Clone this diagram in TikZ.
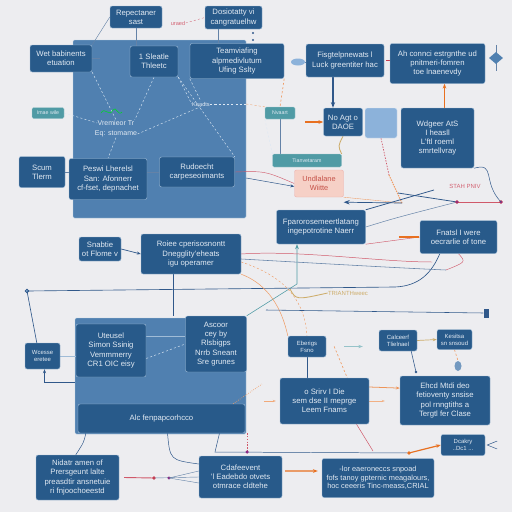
\documentclass[tikz,border=0pt]{standalone}
\usepackage{fontspec}
\setmainfont{Liberation Sans}
\usetikzlibrary{arrows.meta,positioning,calc,shapes.geometric,backgrounds}
\definecolor{bgpaper}{RGB}{237,237,240}
\definecolor{diagblue}{RGB}{40,90,138}
\definecolor{paneblue}{RGB}{80,128,176}
\definecolor{paleblue}{RGB}{140,178,218}
\definecolor{boxtext}{RGB}{226,234,243}
\definecolor{edgeblue}{RGB}{160,188,215}
\definecolor{linkteal}{RGB}{80,155,165}
\definecolor{linkorange}{RGB}{232,112,32}
\definecolor{linkred}{RGB}{200,60,80}
\definecolor{pinkfill}{RGB}{246,208,198}
\definecolor{pinktext}{RGB}{196,80,70}
\definecolor{goldtext}{RGB}{205,172,105}
\definecolor{linkblue}{RGB}{48,88,138}
\tikzset{
  bbox/.style={rounded corners=3pt, draw=edgeblue, fill=diagblue, line width=0.6pt, text=boxtext,
               align=center, inner sep=1pt, font=\fontsize{11}{13}\selectfont},
  smallbox/.style={bbox, font=\fontsize{8.5}{10}\selectfont},
  sqbox/.style={rounded corners=3pt, draw=white!70!paleblue, fill=paleblue, line width=0.6pt},
  pbox/.style={rounded corners=3pt, draw=pinkfill!80!linkred, fill=pinkfill, line width=0.6pt, text=pinktext,
               align=center, inner sep=1pt, font=\fontsize{10.5}{13}\selectfont},
  tlabel/.style={rounded corners=2pt, fill=linkteal, draw=linkteal!50!white, text=boxtext, inner sep=0.5pt,
               font=\fontsize{7.5}{8}\selectfont},
  panel/.style={rounded corners=2pt, fill=paneblue, draw=edgeblue!70, line width=0.5pt},
  paneltext/.style={text=boxtext, inner sep=0.5pt, font=\fontsize{10}{11}\selectfont},
  wh/.style 2 args={minimum width=#1*0.05cm, minimum height=#2*0.05cm},
  flow/.style={line width=1pt, draw=linkblue},
  faint/.style={line width=0.6pt, draw=linkblue!75},
  redlink/.style={line width=0.9pt, draw=linkred!85},
  orlink/.style={line width=0.9pt, draw=linkorange!70},
  dashlink/.style={dashed, line width=0.6pt, draw=white!70!paleblue},
  goldline/.style={line width=1.2pt, draw=goldtext},
  oarrow/.style={-{Stealth[length=2.4mm]}, line width=1.7pt, draw=linkorange},
  barrow/.style={-{Stealth[length=2.8mm]}, line width=1.9pt, draw=linkblue},
}
\begin{document}
\begin{tikzpicture}[x=0.05cm, y=-0.05cm]
\useasboundingbox (0,0) rectangle (512,512);

\node[bbox, wh={52}{22}] (rep) at (136,17) {Repectaner\\sast};
\node[bbox, wh={57}{23}] (dos) at (233.5,17.5) {Dosiotatty vi\\cangratuelhw};
\node[bbox, wh={62}{27}] (wet) at (61,58.5) {Wet babinents\\etuation};
\node[bbox, wh={48}{31}] (sle) at (154,61.5) {1 Sleatle\\Thleetc};
\node[bbox, wh={94}{35}] (team) at (237,61) {Teamviafing\\alpmedivlutum\\Ufing Sslty};
\node[bbox, wh={78}{33}] (fis) at (345,60.5) {Fisgtelpnewats l\\Luck greentiter hac};
\node[bbox, wh={95}{40}] (ahc) at (437.5,63.5) {Ah connci estrgnthe ud\\pnitmeri-fomren\\toe lnaenevdy};

\node[bbox, wh={39}{28}] (noag) at (343,122) {No Agt o\\DAOE};
\node[sqbox, wh={32}{30}] (sqr) at (381,123) {};
\node[bbox, wh={73}{60}] (wdg) at (437.5,138) {Wdgeer AtS\\I heasll\\L'ftl roeml\\smrtellvray};
\node[tlabel, wh={32}{11}] (imae) at (48,113) {Imae wile};
\node[tlabel, wh={30}{12}] (nuard) at (280,113) {Nvaart};
\node[tlabel, wh={69}{13}] (tian) at (307,160.5) {Tianvetaram};
\node[pbox, wh={49}{27}] (pink) at (319,183.5) {Undlalane\\Wiitte};
\node[bbox, wh={46}{31}] (scum) at (42,172) {Scum\\Tlerm};
\node[bbox, wh={78}{41}] (pesw) at (108,179) {Peswi Lherelsl\\San: Afonnerr\\cf-fset, depnachet};
\node[bbox, wh={75}{30}] (rud) at (197,172) {Rudoecht\\carpeseoimants};
\node[bbox, wh={89}{34}] (fpar) at (321,227) {Fparorosemeertlatang\\ingepotrotine Naerr};
\node[bbox, wh={77}{33}] (fnat) at (458.5,237) {Fnatsl I were\\oecrarlie of tone};
\node[bbox, wh={42}{24}] (snab) at (100,249) {Snabtie\\ot Flome v};
\node[bbox, wh={100}{40}] (roie) at (191,254) {Roiee cperisosnontt\\Dnegglity'eheats\\igu operamer};

\node[smallbox, wh={35}{26}] (wces) at (42.5,356) {Wcesse\\eretee};
\node[bbox, wh={70}{53}] (ute) at (111,350.5) {Uteusel\\Simon Ssinig\\Vemmmerry\\CR1 OIC eisy};
\node[bbox, wh={61}{56}] (asc) at (216,344) {Ascoor\\cey by\\Rlsbigps\\Nrrb Sneant\\Sre grunes};
\node[smallbox, wh={38}{21}] (ebe) at (307,346.5) {Eberigs\\Fsno};
\node[smallbox, wh={38}{21}] (calc) at (398,340.5) {Calceerf\\Tlielnael};
\node[smallbox, wh={35}{20}] (kes) at (454.5,339.5) {Kesitsa\\sn snsoud};
\node[bbox, wh={89}{46}] (srv) at (324.5,401) {o Srirv I Die\\sem dse II meprge\\Leem Fnams};
\node[bbox, wh={90}{49}] (ehc) at (445,400.5) {Ehcd Mtdi deo\\fetioventy snsise\\pol rnngtiths a\\Tergtl fer Clase};
\node[bbox, wh={167}{29}] (alc) at (161.5,418.5) {Alc fenpapcorhcco};
\node[bbox, wh={83}{45}] (nid) at (77.5,477.5) {Nidatr amen of\\Prersgeunt lalte\\preasdtir ansnetuie\\ri fnjoochoeestd};
\node[bbox, wh={83}{42}] (cda) at (240.5,477) {Cdafeevent\\'l Eadebdo otvets\\otmrace cldtehe};
\node[bbox, wh={112}{39}, font=\fontsize{10.5}{12.5}\selectfont] (lor) at (378,478) {-lor eaeroneccs snpoad\\fofs tanoy gpternic meagalours,\\hoc ceeeris Tinc-meass,CRIAL};
\node[smallbox, wh={44}{21}] (dcak) at (463,445) {Dcakry\\..Dc1 ...};

\node[paneltext] (vrem) at (116,123) {Vremieor Tr};
\node[paneltext] (eqs) at (116,134) {Eq: stomame};
\node[paneltext, font=\fontsize{8}{9}\selectfont] (keadts) at (201,104) {Keadts};
\node[text=linkred!80, inner sep=0.5pt, font=\fontsize{8}{9}\selectfont] (sraed) at (178,23) {uraed};
\node[text=goldtext, inner sep=0.5pt, font=\fontsize{8.5}{9}\selectfont] (tri) at (348,293) {TRIANTHweec};
\node[text=linkred!80, inner sep=0.5pt, font=\fontsize{8.5}{9}\selectfont] (stah) at (465,186) {STAH PNIV};

\node[ellipse, fill=paleblue, wh={14}{7}, inner sep=0pt] (cloud) at (298,62) {};
\node[diamond, fill=paneblue, wh={14}{12}, inner sep=0pt] (leaf) at (496,58) {};
\node[ellipse, fill=paneblue!80, wh={7}{10}, inner sep=0pt] (bulb) at (458,366) {};
\node[rectangle, fill=linkblue, wh={5}{9}, inner sep=0pt] (pin) at (486,313) {};

\coordinate (hubL) at (27,291);
\coordinate (fisdrop) at (333,77);
\coordinate (midy) at (0,178);
\coordinate (redmid) at (389,175);
\coordinate (xhub) at (402,203);
\coordinate (xcD) at (434,190);
\coordinate (redA) at (457,202);
\coordinate (redB) at (501,202);
\coordinate (tealbend) at (297,284);
\coordinate (bendA) at (395,287);
\coordinate (lnA) at (432,262);
\coordinate (lnB) at (446,270);
\coordinate (bendT) at (290,289);
\coordinate (pinL) at (266,310);
\coordinate (ehcdot) at (416,372);
\coordinate (orfree) at (262,384);
\coordinate (lineL) at (215,452);
\coordinate (dotO) at (409,453);
\coordinate (srvdrop) at (373,451);
\coordinate (rdA) at (154,478);
\coordinate (rdB) at (169,478);
\coordinate (wcesy) at (0,382);

\begin{scope}[on background layer]
\fill[bgpaper] (0,0) rectangle (512,512);
\node[panel, wh={173}{178}] (panA) at (159.5,129) {};
\node[panel, wh={171}{116}] (panB) at (160.5,376) {};

\draw[faint] (rep.west) -- (wet.north east);
\draw[faint] (rep.south) -- (rep.south |- sle.north);
\draw[faint] ([xshift=-0.75cm]dos.south) -- ([xshift=-0.75cm]dos.south |- team.north);
\draw[redlink, dashed, line width=0.4pt] (sraed.east) -- (dos.west);
\fill[linkblue] (253,33) circle (1.6pt) (253,40) circle (1.6pt);
\draw[faint] (wet.east) -- ++(8,0);
\draw[dashlink] (wet.south east) -- (vrem.north);
\draw[dashlink] (sle.south) -- (vrem.north east);
\draw[dashlink] (sle.south east) -- (keadts.west);
\draw[dashlink] (team.south west) -- (keadts.north);
\draw[dashlink] (sle.south east) -- (rud.north east);
\draw[dashlink] (eqs.east) -- (keadts.south);
\draw[dashlink] (eqs.south) -- (pesw.north);
\draw[dashlink] (imae.east) -- (vrem.west);
\draw[dashlink] (keadts.east) -- (panA.east |- keadts.east);
\draw[orlink, dashed, line width=0.5pt] (panA.east |- keadts.east) -- (nuard.north west);
\draw[green!70!teal, line width=0.8pt] (101,113) .. controls (105,106) and (109,118) .. (113,110) .. controls (116,105) and (118,117) .. (122,112);
\draw[faint] (scum.east) -- (pesw.west |- scum.east);
\draw[faint] (pesw.east |- rud.west) -- (rud.west);

\draw[faint] (cloud.east) -- (fis.west |- cloud.east);
\draw[linkred, line width=1pt] (fis.east) ++(2,0) -- ++(4,0);
\draw[faint] ([yshift=0.35cm]leaf.north) -- ([yshift=-0.35cm]leaf.south);
\draw[barrow] (fisdrop) -- (fisdrop |- noag.north);
\draw[oarrow, shorten <=0.5cm] (nuard.east |- noag.west) -- (noag.west);
\draw[oarrow] ([xshift=0.35cm]wdg.north) -- ([xshift=0.35cm]wdg.north |- ahc.south);
\draw[goldline] (noag.south) .. controls (338,146) .. (tian.north east);
\draw[faint] (nuard.south) -- (nuard.south |- tian.north);
\draw[dashlink] (nuard.south west) -- (tian.north west);
\draw[orlink, dashed] (team.south east) -- (nuard.north);
\draw[redlink, dash pattern=on 2pt off 2pt, line width=1pt] (sqr.south) -- (redmid);
\draw[orlink, dash pattern=on 2pt off 1.5pt, line width=1.5pt] (redmid) -- (xhub);

\draw[redlink, line width=0.6pt] (rud.east) .. controls (265,171) .. (pink.west);
\draw[flow, -{Stealth[length=2mm]}, line width=0.7pt] (panA.east |- midy) -- ([yshift=-0.15cm]pink.west);
\draw[orlink, line width=0.5pt] (pink.south east) -- (xhub);
\draw[flow, -{Stealth[length=3mm]}, line width=1pt] (xhub) -- ([yshift=-0.25cm]pink.south east);
\draw[flow, line width=1.1pt] (fpar.north east) -- (xcD);
\draw[flow, line width=1.1pt] (xhub) ++(-4,-10) -- (redA);
\draw[faint, line width=0.7pt] (fpar.east) .. controls (395,218) .. (redA);
\draw[redlink] (redA) -- (redB);
\draw[linkred, fill=linkred!70!blue] (redA) circle (2.3pt);
\draw[linkred, fill=linkred!70!blue] (redB) circle (2.3pt);
\draw[flow, line width=0.7pt] (wdg.south east) .. controls (496,162) and (482,182) .. (redB);

\draw[linkteal, line width=0.8pt, -{Stealth[length=2.5mm]}] (asc.north east) -- (tealbend) -- (tealbend |- fpar.south);
\draw[redlink, line width=0.6pt] (fpar.south east) -- (fnat.west);
\draw[linkorange, line width=2.4pt] ([xshift=-1.05cm]fnat.west) -- ([xshift=-0.05cm]fnat.west);

\draw[flow, fill=paleblue, line width=1pt] (hubL) circle (2.6pt);
\draw[flow, line width=0.9pt] (hubL) -- (bendA) .. controls (420,286) and (432,272) .. ([xshift=1cm]fnat.south west);
\draw[flow, line width=0.9pt] (hubL) -- ([xshift=0.6cm]wces.north west);
\draw[redlink, line width=0.7pt] (roie.east) .. controls (300,250) and (380,262) .. (lnA);
\draw[faint, line width=0.8pt] ([yshift=-0.25cm]roie.east) .. controls (330,264) and (400,268) .. (lnB);
\draw[redlink, line width=0.6pt] (fnat.south) .. controls (466,262) .. (lnB);
\draw[orlink, line width=0.7pt] (roie.south east) .. controls (262,282) and (280,300) .. (ebe.north west);
\draw[orlink, dashed, line width=0.6pt] ([yshift=-0.4cm]roie.east) .. controls (290,278) and (305,305) .. (ebe.north);
\draw[goldline] (bendT) .. controls (296,300) .. (tri.west);
\draw[flow, line width=0.8pt] (pinL) -- (pin.west);

\draw[draw=edgeblue, line width=0.9pt] (wces.east) -- (ute.west |- wces.east);
\draw[flow, line width=0.7pt, {Stealth[length=2mm]}-] ([xshift=0.1cm]wces.south) -- ([xshift=0.1cm]wces.south |- wcesy) -- (panB.west |- wcesy);
\draw[draw=edgeblue, line width=0.9pt] ([yshift=0.7cm]ute.east) -- ([yshift=0.7cm]ute.east -| asc.west);
\draw[dashlink] ([yshift=-0.4cm]ute.east) -- (asc.west);
\draw[flow, line width=0.7pt] ([xshift=-0.9cm]roie.south) -- ([xshift=-0.9cm]roie.south |- asc.north);
\draw[flow, -{Stealth[length=2mm]}] (snab.east) -- (roie.west);
\draw[flow, line width=0.7pt] (ebe.south) -- (ebe.south |- srv.north);
\draw[orlink, dashed] ([xshift=0.4cm]ebe.east) -- ([xshift=-1.1cm]srv.north east);
\draw[-{Stealth[length=2.2mm]}, draw=linkteal!60, line width=2pt, shorten <=0.9cm, shorten >=0.8cm] (ebe.east) -- (ebe.east -| calc.west);
\draw[-{Stealth[length=2mm]}, draw=goldtext, line width=1pt] (calc.east) -- (kes.west);
\draw[orlink, dashed] (kes.south) -- (bulb.north);
\draw[flow, line width=0.8pt] (calc.south east) ++(-6,0) -- (ehcdot);
\fill[linkblue] (ehcdot) circle (1.8pt);
\draw[-{Stealth[length=2mm]}, draw=linkorange!75, line width=1.1pt] ([yshift=0.7cm]srv.east) -- ([yshift=0.62cm]ehc.west);
\draw[-{Stealth[length=1.5mm]}, draw=linkorange!55, line width=0.8pt, shorten >=0.75cm] (srv.east) -- (srv.east -| ehc.west);
\draw[-{Stealth[length=1.5mm]}, draw=linkorange!60, line width=0.8pt] ([xshift=-0.8cm]srv.west) -- ([xshift=-0.2cm]srv.west);
\draw[orlink, dotted, line width=1pt] ([xshift=-0.6cm]alc.north east) -- (orfree);

\draw[flow, line width=0.7pt] ([xshift=0.4cm]alc.south west) .. controls (84,442) .. ([xshift=2cm]nid.north west);
\draw[linkteal, line width=0.7pt] (86,427) circle (3pt);
\draw[flow, line width=0.7pt] ([xshift=0.3cm]alc.south) .. controls (170,460) .. ([yshift=0.65cm]cda.west);
\draw[flow, line width=0.7pt] ([xshift=2.9cm]alc.south) -- (lineL) -- (dotO);
\draw[oarrow] (dotO) -- (dcak.west);
\fill[linkorange] (dotO) circle (2.8pt);
\draw[redlink, dash pattern=on 2pt off 2pt] ([xshift=0.1cm]alc.south east) -- ([xshift=0.1cm]alc.south east |- lineL);
\fill[linkred!70!blue] ([xshift=0.1cm]alc.south east |- lineL) circle (2.5pt);
\draw[redlink, line width=0.7pt] ([xshift=1.6cm]srv.south) -- (srvdrop);
\draw[flow, line width=0.7pt] ([xshift=0.6cm,yshift=0.2cm]dcak.east) -- ([xshift=0.1cm]dcak.east) -- ([xshift=0.6cm,yshift=-0.2cm]dcak.east);
\draw[oarrow] ([xshift=0.15cm,yshift=0.3cm]cda.east) -- ([xshift=-0.2cm,yshift=0.35cm]lor.west);
\draw[redlink, line width=1.3pt] ([xshift=0.25cm]nid.east) -- (rdA);
\fill[linkred] (rdA) circle (2.6pt);
\draw[faint] (rdA) -- (cda.west);
\fill[linkred!70!blue] (rdB) circle (2.4pt);
\draw[faint] (rdB) -- ([yshift=0.3cm]cda.west);
\draw[faint] (rdB) -- ([yshift=-0.3cm]cda.west);
\end{scope}
\end{tikzpicture}
\end{document}
